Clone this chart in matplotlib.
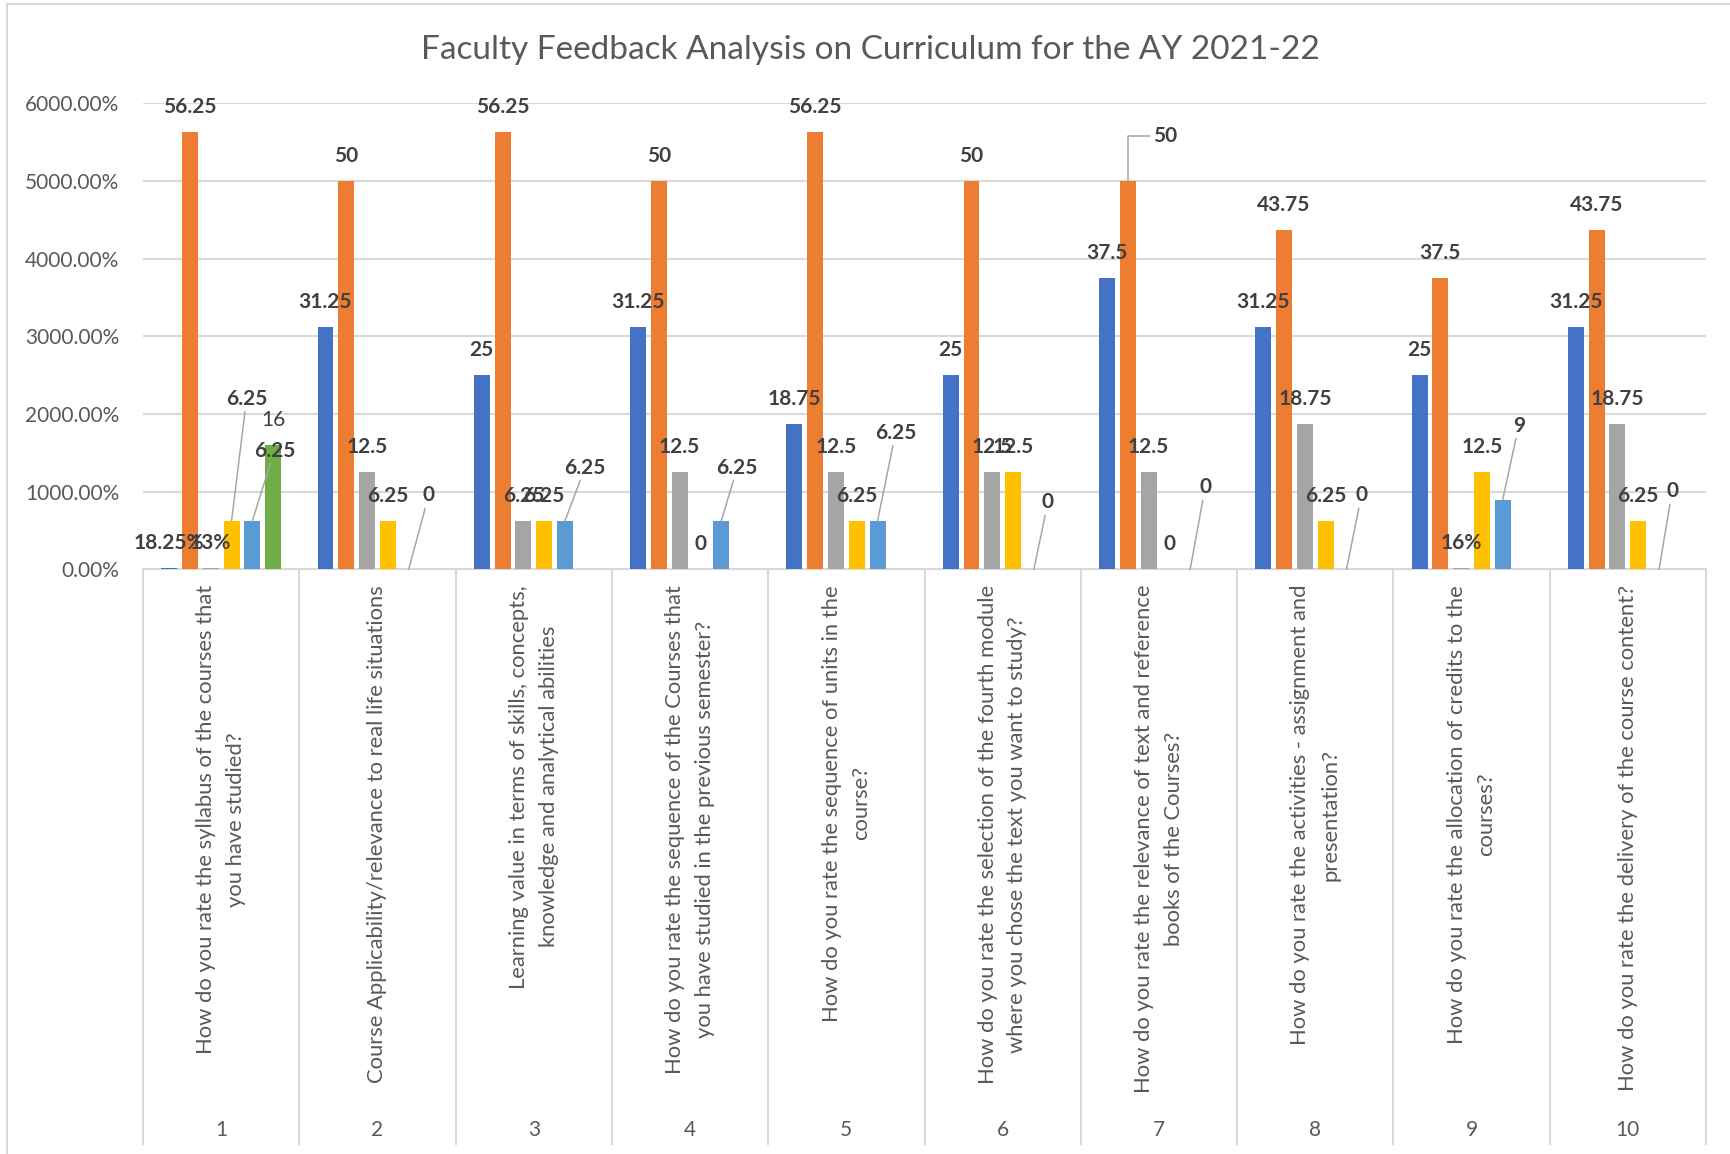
import numpy as np
import matplotlib.pyplot as plt
from matplotlib.lines import Line2D
from matplotlib.ticker import FuncFormatter

plt.rcParams['font.family'] = ['Lato', 'DejaVu Sans']

title = "Faculty Feedback Analysis on Curriculum for the AY 2021-22"

categories = [
    "How do you rate the syllabus of the courses that\nyou have studied?",
    "Course Applicability/relevance to real life situations",
    "Learning value in terms of skills, concepts,\nknowledge and analytical abilities",
    "How do you rate the sequence of the Courses that\nyou have studied in the previous semester?",
    "How do you rate the sequence of units in the\ncourse?",
    "How do you rate the selection of the fourth module\nwhere you chose the text you want to study?",
    "How do you rate the relevance of text and reference\nbooks of the Courses?",
    "How do you rate the activities - assignment and\npresentation?",
    "How do you rate the allocation of credits to the\ncourses?",
    "How do you rate the delivery of the course content?",
]
numbers = ["1", "2", "3", "4", "5", "6", "7", "8", "9", "10"]

s1 = [0.1825, 31.25, 25, 31.25, 18.75, 25, 37.5, 31.25, 25, 31.25]
s2 = [56.25, 50, 56.25, 50, 56.25, 50, 50, 43.75, 37.5, 43.75]
s3 = [0.13, 12.5, 6.25, 12.5, 12.5, 12.5, 12.5, 18.75, 0.16, 18.75]
s4 = [6.25, 6.25, 6.25, 0, 6.25, 12.5, 0, 6.25, 12.5, 6.25]
s5 = [6.25, 0, 6.25, 6.25, 6.25, 0, 0, 0, 9, 0]
s6 = [16, np.nan, np.nan, np.nan, np.nan, np.nan, np.nan, np.nan, np.nan, np.nan]
series = [s1, s2, s3, s4, s5, s6]

colors = ["#4472C4", "#ED7D31", "#A5A5A5", "#FFC000", "#5B9BD5", "#70AD47"]
weights = ["bold", "bold", "bold", "bold", "bold", "normal"]

# labels that were dragged away from their bars (pixel offsets), with leader lines
moved = {
    (0, 3): (15, 122), (0, 4): (22, 70), (1, 4): (20, 74), (2, 4): (20, 53),
    (3, 4): (16, 53), (4, 4): (18, 88), (5, 4): (14, 67), (6, 1): (37, 45),
    (6, 4): (15, 82), (7, 4): (15, 74), (8, 4): (16, 74), (9, 4): (13, 78),
}


def fmt_label(v):
    if 0 < v < 1:
        return f"{v * 100:g}%"
    return f"{v:g}"


fig = plt.figure(figsize=(17.3, 11.54), dpi=100)
ax = fig.add_axes([0.08266, 0.5065, 0.90347, 0.40399])

grid_c = "#D9D9D9"
n = len(categories)
x = np.arange(n) + 0.5
step = 0.133
width = 0.102

for k, vals in enumerate(series):
    xs = x + (k - 2.5) * step
    ax.bar(xs, vals, width=width, color=colors[k], zorder=3)
    for i, v in enumerate(vals):
        if np.isnan(v):
            continue
        dx, dy = moved.get((i, k), (0, 25))
        props = None
        if (i, k) in moved:
            props = dict(arrowstyle="-", color="#A6A6A6", lw=1.1,
                         shrinkA=0, shrinkB=0)
            if (i, k) == (6, 1):
                props["connectionstyle"] = "angle,angleA=0,angleB=90,rad=0"
                props["relpos"] = (0.0, 0.5)
        ax.annotate(fmt_label(v), xy=(xs[i], v), xytext=(dx, dy),
                    textcoords="offset pixels", ha="center", va="center",
                    fontsize=15, fontweight=weights[k], color="#404040",
                    arrowprops=props, zorder=5)

ax.set_xlim(0, n)
ax.set_ylim(0, 60)
ax.set_yticks(np.arange(0, 61, 10))
ax.yaxis.set_major_formatter(FuncFormatter(lambda v, p: f"{v * 100:.2f}%"))
ax.tick_params(axis="y", length=0, pad=17, labelsize=15, labelcolor="#595959")
ax.set_xticks([])
ax.grid(axis="y", color=grid_c, lw=1.5, zorder=0)
for sp in ["top", "right", "left"]:
    ax.spines[sp].set_visible(False)
ax.spines["bottom"].set_color(grid_c)
ax.spines["bottom"].set_linewidth(1.5)

# multi-level category axis below the plot
trans = ax.get_xaxis_transform()
for b in range(n + 1):
    ax.plot([b, b], [0, -1.232], color=grid_c, lw=1.5, transform=trans,
            clip_on=False)
for i in range(n):
    ax.text(x[i], -0.033, categories[i], rotation=90, ha="center", va="top",
            multialignment="center", fontsize=15.8, color="#595959",
            transform=trans, linespacing=1.6)
    ax.text(x[i], -1.202, numbers[i], ha="center", va="center", fontsize=15,
            color="#595959", transform=trans)

fig.text(0.503, 0.957, title, ha="center", va="center", fontsize=24,
         color="#595959")

# chart frame (only left and top edges are in the screenshot)
fig.add_artist(Line2D([7 / 1730, 7 / 1730], [0, 1 - 4 / 1154], color=grid_c, lw=1.5))
fig.add_artist(Line2D([7 / 1730, 1], [1 - 4 / 1154, 1 - 4 / 1154], color=grid_c, lw=1.5))

fig.savefig("out.png", dpi=100, facecolor="white")
